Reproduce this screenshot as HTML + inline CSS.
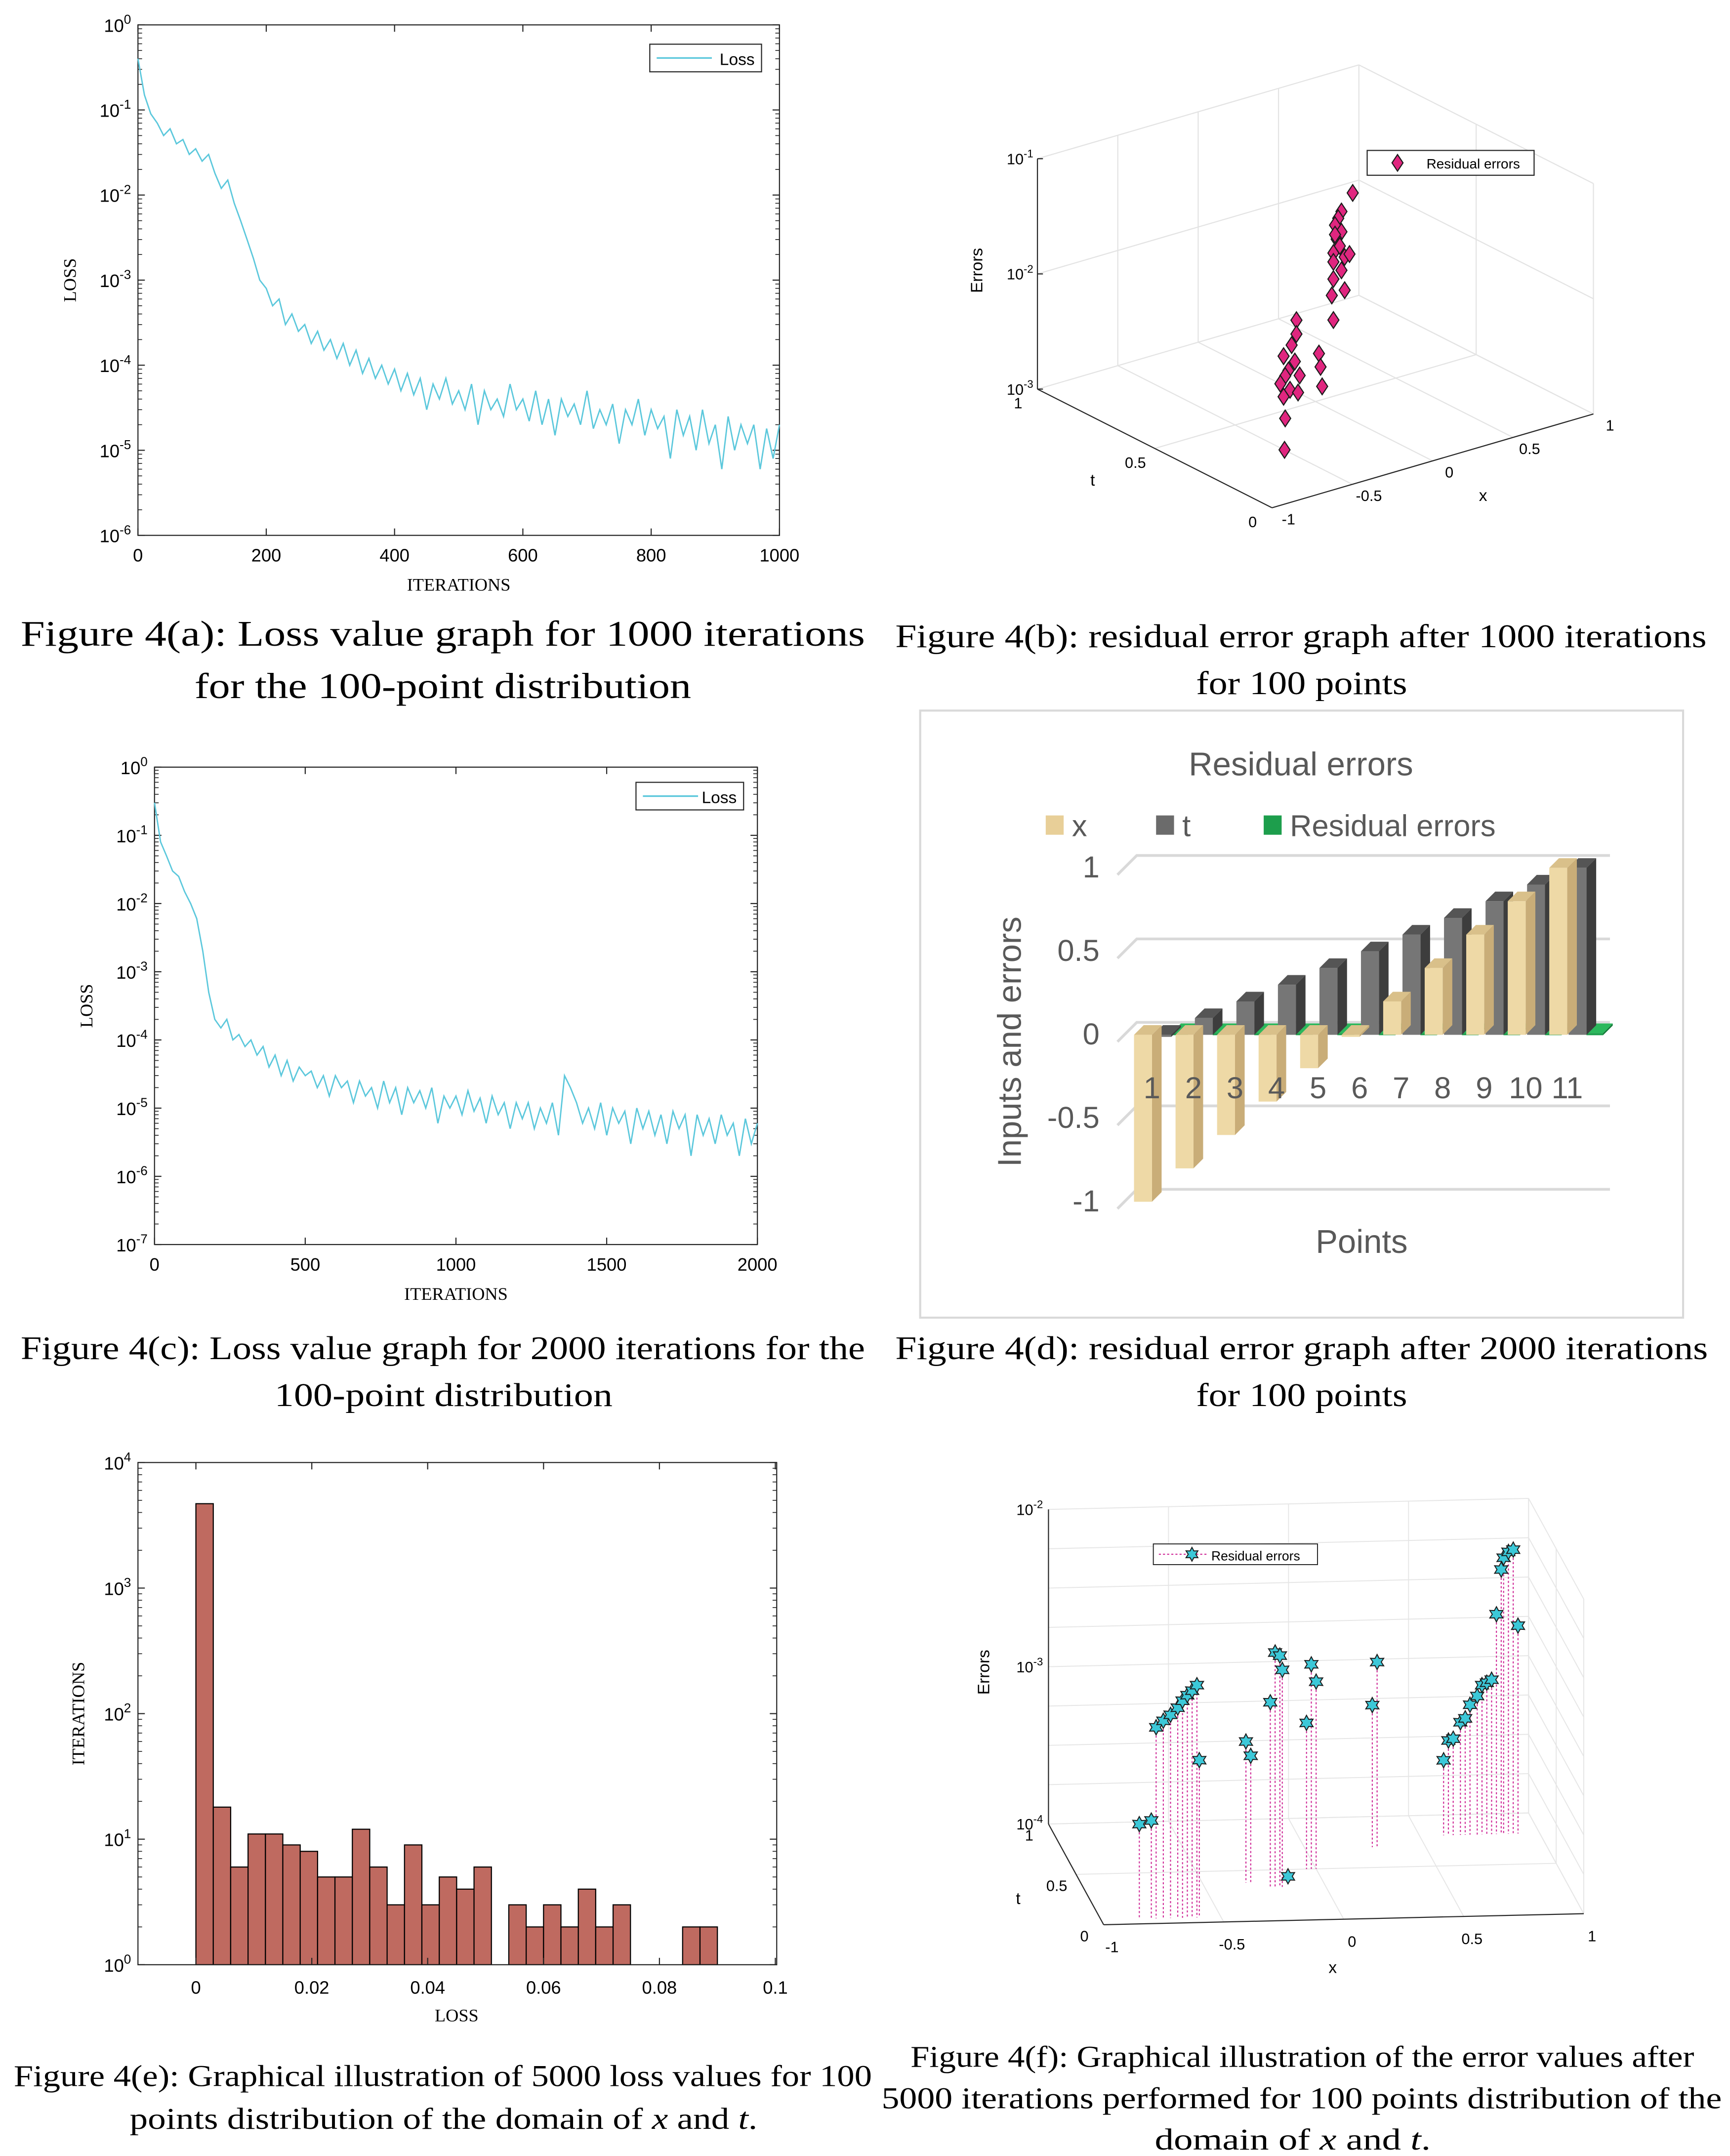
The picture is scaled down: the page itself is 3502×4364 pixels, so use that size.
<!DOCTYPE html>
<html><head><meta charset="utf-8"><style>
html,body{margin:0;padding:0;background:#fff}
svg{display:block}
text{font-family:"Liberation Sans",sans-serif}
.serif{font-family:"Liberation Serif",serif}
</style></head>
<body>
<svg id="chart" width="3502" height="4364" viewBox="0 0 1254 1562.6" xmlns="http://www.w3.org/2000/svg">
<rect x="0" y="0" width="1254" height="1563" fill="#fff"/>
<g id="pa"></g>
<g id="pb"></g>
<g id="pc"></g>
<g id="pd"></g>
<g id="pe"></g>
<g id="pf"></g>
<g class="serif" fill="#000">
<text x="15" y="468" font-size="26" textLength="612" lengthAdjust="spacingAndGlyphs" class="serif">Figure 4(a): Loss value graph for  1000  iterations</text>
<text x="141" y="506" font-size="26" textLength="360" lengthAdjust="spacingAndGlyphs" class="serif">for the 100-point distribution</text>
<text x="649" y="469" font-size="24" textLength="588" lengthAdjust="spacingAndGlyphs" class="serif">Figure 4(b): residual error graph after 1000 iterations</text>
<text x="867" y="503" font-size="24" textLength="153" lengthAdjust="spacingAndGlyphs" class="serif">for 100 points</text>
<text x="15" y="985" font-size="24" textLength="612" lengthAdjust="spacingAndGlyphs" class="serif">Figure 4(c): Loss value graph for 2000 iterations for the</text>
<text x="199" y="1019" font-size="24" textLength="245" lengthAdjust="spacingAndGlyphs" class="serif">100-point distribution</text>
<text x="649" y="985" font-size="24" textLength="589" lengthAdjust="spacingAndGlyphs" class="serif">Figure 4(d): residual error graph after 2000 iterations</text>
<text x="867" y="1019" font-size="24" textLength="153" lengthAdjust="spacingAndGlyphs" class="serif">for 100 points</text>
<text x="10" y="1512" font-size="22" textLength="622" lengthAdjust="spacingAndGlyphs" class="serif">Figure 4(e): Graphical illustration of  5000  loss values for  100</text>
<text x="94" y="1543" font-size="22" textLength="455" lengthAdjust="spacingAndGlyphs" class="serif">points distribution of the domain of  <tspan font-style="italic">x</tspan>  and  <tspan font-style="italic">t</tspan>.</text>
<text x="660" y="1498" font-size="22" textLength="568" lengthAdjust="spacingAndGlyphs" class="serif">Figure 4(f): Graphical illustration of the error values after</text>
<text x="639" y="1528" font-size="22" textLength="609" lengthAdjust="spacingAndGlyphs" class="serif">5000  iterations performed for  100  points distribution of the</text>
<text x="837" y="1558" font-size="22" textLength="200" lengthAdjust="spacingAndGlyphs" class="serif">domain of  <tspan font-style="italic">x</tspan>  and  <tspan font-style="italic">t</tspan>.</text>
</g>
</svg>
<script>
// ---------- DATA ----------
const lossAIters = [];
for (let i = 0; i <= 100; i++) lossAIters.push(i * 10);
const lossAValues = [0.4,0.15,0.09,0.07,0.05,0.06,0.04,0.045,0.03,0.035,0.025,0.03,0.018,0.012,0.015,0.008,0.005,0.003,0.0018,0.001,
0.0008,0.0005,0.0006,0.0003,0.0004,0.00025,0.0003,0.00018,0.00025,0.00015,0.0002,0.00012,0.00018,0.0001,0.00015,0.00008,0.00012,0.00007,0.0001,0.00006,
0.00009,0.00005,0.00008,0.000045,0.00007,0.00003,0.00006,0.00004,0.00007,0.000035,0.00005,0.00003,0.00006,0.00002,0.00005,0.00003,0.00004,0.000025,0.00006,0.00003,
0.00004,0.000022,0.00005,0.00002,0.00004,0.000015,0.00004,0.000025,0.000035,0.00002,0.00005,0.000018,0.00003,0.00002,0.000035,0.000012,0.00003,0.00002,0.00004,0.000015,
0.00003,0.000018,0.000025,0.000008,0.00003,0.000015,0.000025,0.00001,0.00003,0.000012,0.00002,0.000006,0.000025,0.00001,0.00002,0.000012,0.00002,0.000006,0.000018,0.000008,0.00002];
const lossCIters = [];
for (let i = 0; i <= 100; i++) lossCIters.push(i * 20);
const lossCValues = [0.3,0.08,0.05,0.03,0.025,0.015,0.01,0.006,0.002,0.0005,0.0002,0.00015,0.0002,0.0001,0.00012,0.00008,0.0001,0.00006,0.00008,0.00004,
0.00006,0.00003,0.00005,0.000025,0.00004,0.00003,0.000035,0.00002,0.00003,0.000015,0.00003,0.00002,0.000025,0.000012,0.000025,0.000015,0.00002,0.00001,0.000025,0.000012,
0.00002,0.000008,0.00002,0.000012,0.000018,0.00001,0.00002,0.000006,0.000015,0.00001,0.000015,0.000008,0.000018,0.000009,0.000014,0.000006,0.000015,0.000008,0.000012,0.000005,
0.000012,0.000007,0.000012,0.000005,0.00001,0.000006,0.000012,0.000004,0.00003,0.00002,0.000012,0.000006,0.00001,0.000005,0.000012,0.000004,0.00001,0.000006,0.000009,0.000003,
0.00001,0.000005,0.000009,0.000004,0.000008,0.000003,0.000009,0.000005,0.000008,0.000002,0.000008,0.000004,0.000007,0.000003,0.000008,0.000004,0.000006,0.000002,0.000007,0.000003,0.000006];
const resBX = [-0.41,-0.41,-0.44,-0.49,-0.42,-0.46,-0.48,-0.51,-0.45,-0.49,-0.40,-0.48,-0.63,-0.27,-0.26,-0.25,-0.39,
-0.06,-0.13,-0.15,-0.17,-0.13,-0.16,-0.14,-0.18,-0.11,-0.08,-0.18,-0.13,-0.18,-0.11,-0.19,-0.18,-0.17];
const resBT = [0.3,0.3,0.3,0.3,0.3,0.3,0.3,0.3,0.3,0.3,0.3,0.3,0.2,0.3,0.3,0.3,0.3,
0.3,0.3,0.3,0.3,0.3,0.3,0.3,0.3,0.3,0.3,0.3,0.3,0.3,0.3,0.3,0.3,0.3];
const resBErr = [0.012,0.0091,0.0075,0.0063,0.0053,0.0046,0.0042,0.0037,0.0031,0.0028,0.0028,0.0018,0.0014,0.0054,0.0041,0.00275,0.0039,
0.11,0.081,0.072,0.064,0.054,0.048,0.041,0.037,0.032,0.033,0.031,0.025,0.022,0.0165,0.016,0.0097,0.053];
const pointLabels = ['1','2','3','4','5','6','7','8','9','10','11'];
const xInputs = [-1,-0.8,-0.6,-0.4,-0.2,0,0.2,0.4,0.6,0.8,1];
const tInputs = [0,0.1,0.2,0.3,0.4,0.5,0.6,0.7,0.8,0.9,1];
const residualErrs = [0.01,0.01,0.01,0.01,0.01,0.01,0.01,0.01,0.01,0.01,0.01];
const dTicks = [1,0.5,0,-0.5,-1];
const histBinWidth = 0.003;
const histCounts = [4700,18,6,11,11,9,8,5,5,12,6,3,9,3,5,4,6,0,3,2,3,2,4,2,3,0,0,0,2,2];
const histXTicks = [0,0.02,0.04,0.06,0.08,0.1];
const resFX = [-0.84,-0.79,-0.77,-0.74,-0.71,-0.68,-0.66,-0.64,-0.62,-0.60,-0.59,-0.32,-0.30,-0.23,-0.21,-0.19,-0.18,-0.14,-0.04,-0.02,0.0,0.28,0.30,
0.60,0.62,0.64,0.67,0.69,0.71,0.74,0.76,0.78,0.80,0.82,0.84,0.85,0.87,0.89,0.91];
const resFT = [0.05,0.05,0.05,0.05,0.05,0.05,0.05,0.05,0.05,0.05,0.05,0.38,0.38,0.33,0.33,0.33,0.33,0.4,0.5,0.5,0.5,0.7,0.7,
0.8,0.8,0.8,0.8,0.8,0.8,0.8,0.8,0.8,0.8,0.8,0.8,0.8,0.8,0.8,0.8];
const resFErr = [0.0004,0.00042,0.00164,0.0018,0.00196,0.00217,0.0024,0.0026,0.00277,0.003,0.001,0.00079,0.00064,0.0015,0.0031,0.00296,0.0024,0.000105,0.00085,0.002,0.00155,0.0008,0.0015,
0.0003,0.0004,0.00041,0.00052,0.00055,0.00067,0.00076,0.00089,0.00092,0.00096,0.0025,0.0048,0.0057,0.0062,0.0064,0.0021];

// ---------- HELPERS ----------
const NS = 'http://www.w3.org/2000/svg';
function mk(tag, attrs, parent) {
  const el = document.createElementNS(NS, tag);
  for (const k in attrs) el.setAttribute(k, attrs[k]);
  parent.appendChild(el);
  return el;
}
function powLabel(parent, x, y, exp, size, anchor) {
  const t = mk('text', {x: x, y: y, 'font-size': size, 'text-anchor': anchor || 'end', fill: '#000'}, parent);
  
  
  const a = document.createElementNS(NS, 'tspan'); a.textContent = '10'; t.appendChild(a);
  const b = document.createElementNS(NS, 'tspan'); b.textContent = exp; b.setAttribute('dy', -size * 0.45); b.setAttribute('font-size', size * 0.72); t.appendChild(b);
  return t;
}
function txt(parent, x, y, s, size, anchor, extra) {
  const t = mk('text', Object.assign({x: x, y: y, 'font-size': size, 'text-anchor': anchor || 'middle', fill: '#000'}, extra || {}), parent);
  t.textContent = s;
  return t;
}

// ---------- LOSS PANELS ----------
function lossPanel(g, L, T, R, B, eMin, eMax, xMax, xTicks, iters, vals, legX, legY, legW) {
  const sx = v => L + (v / xMax) * (R - L);
  const sy = v => B - (Math.log10(v) - eMin) / (eMax - eMin) * (B - T);
  const box = mk('rect', {x: L, y: T, width: R - L, height: B - T, fill: 'none', stroke: '#262626', 'stroke-width': 0.8}, g);
  
  
  for (let e = eMin; e <= eMax; e++) {
    const y = B - (e - eMin) / (eMax - eMin) * (B - T);
    mk('line', {x1: L, x2: L + 5, y1: y, y2: y, stroke: '#262626', 'stroke-width': 0.8}, g);
    mk('line', {x1: R, x2: R - 5, y1: y, y2: y, stroke: '#262626', 'stroke-width': 0.8}, g);
    powLabel(g, L - 5, y + 5, String(e), 13);
    if (e < eMax) for (let m = 2; m <= 9; m++) {
      const ym = sy(m * Math.pow(10, e));
      mk('line', {x1: L, x2: L + 3, y1: ym, y2: ym, stroke: '#262626', 'stroke-width': 0.6}, g);
      mk('line', {x1: R, x2: R - 3, y1: ym, y2: ym, stroke: '#262626', 'stroke-width': 0.6}, g);
    }
  }
  xTicks.forEach(v => {
    const x = sx(v);
    mk('line', {x1: x, x2: x, y1: B, y2: B - 5, stroke: '#262626', 'stroke-width': 0.8}, g);
    mk('line', {x1: x, x2: x, y1: T, y2: T + 5, stroke: '#262626', 'stroke-width': 0.8}, g);
    const lt = txt(g, x, B + 19, String(v), 13);
    
    
  });
  let d = '';
  iters.forEach((it, i) => { d += (i ? 'L' : 'M') + sx(it).toFixed(1) + ',' + sy(vals[i]).toFixed(1); });
  const p = mk('path', {d: d, fill: 'none', stroke: '#5cc8dc', 'stroke-width': 1}, g);
  
  
  const lb = mk('rect', {x: legX, y: legY, width: legW, height: 20, fill: '#fff', stroke: '#262626', 'stroke-width': 0.8}, g);
  
  
  mk('line', {x1: legX + 5, x2: legX + 45, y1: legY + 10, y2: legY + 10, stroke: '#5cc8dc', 'stroke-width': 1.2}, g);
  const le = txt(g, legX + legW - 5, legY + 15, 'Loss', 12, 'end');
  
  
  const yt = txt(g, 0, 0, 'LOSS', 13, 'middle', {transform: 'translate(' + (L - 45) + ',' + ((T + B) / 2) + ') rotate(-90)', class: 'serif'});
  
  
  const xt = txt(g, (L + R) / 2, B + 40, 'ITERATIONS', 13, 'middle', {class: 'serif'});
  
  
}
lossPanel(document.getElementById('pa'), 100, 18, 565, 388, -6, 0, 1000, [0,200,400,600,800,1000], lossAIters, lossAValues, 471, 32, 81);
lossPanel(document.getElementById('pc'), 112, 556, 549, 902, -7, 0, 2000, [0,500,1000,1500,2000], lossCIters, lossCValues, 461, 567, 78);

// ---------- HISTOGRAM ----------
(function () {
  const g = document.getElementById('pe');
  const L = 100, T = 1060, R = 563, B = 1424;
  const sx = v => 142 + v / 0.02 * 84;
  const sy = v => B - Math.log10(v) / 4 * (B - T);
  histCounts.forEach((c, i) => {
    if (c <= 0) return;
    const x0 = sx(i * histBinWidth), x1 = sx((i + 1) * histBinWidth);
    const r = mk('rect', {x: x0, y: sy(c), width: x1 - x0, height: B - sy(c), fill: '#bf6a60', stroke: '#000', 'stroke-width': 0.8}, g);
    
    
  });
  const box = mk('rect', {x: L, y: T, width: R - L, height: B - T, fill: 'none', stroke: '#262626', 'stroke-width': 0.8}, g);
  
  
  for (let e = 0; e <= 4; e++) {
    const y = sy(Math.pow(10, e));
    mk('line', {x1: L, x2: L + 5, y1: y, y2: y, stroke: '#262626', 'stroke-width': 0.8}, g);
    mk('line', {x1: R, x2: R - 5, y1: y, y2: y, stroke: '#262626', 'stroke-width': 0.8}, g);
    powLabel(g, L - 5, y + 5, String(e), 13);
    if (e < 4) for (let m = 2; m <= 9; m++) {
      const ym = sy(m * Math.pow(10, e));
      mk('line', {x1: L, x2: L + 3, y1: ym, y2: ym, stroke: '#262626', 'stroke-width': 0.6}, g);
      mk('line', {x1: R, x2: R - 3, y1: ym, y2: ym, stroke: '#262626', 'stroke-width': 0.6}, g);
    }
  }
  histXTicks.forEach(v => {
    const x = sx(v);
    mk('line', {x1: x, x2: x, y1: B, y2: B - 5, stroke: '#262626', 'stroke-width': 0.8}, g);
    mk('line', {x1: x, x2: x, y1: T, y2: T + 5, stroke: '#262626', 'stroke-width': 0.8}, g);
    const lt = txt(g, x, B + 21, String(v), 13);
    
    
  });
  const yt = txt(g, 0, 0, 'ITERATIONS', 13, 'middle', {transform: 'translate(61,1242) rotate(-90)', class: 'serif'});
  
  
  const xt = txt(g, 331, 1465, 'LOSS', 13, 'middle', {class: 'serif'});
  
  
})();

// ---------- 3D PANEL (b) ----------
(function () {
  const g = document.getElementById('pb');
  const O = [922, 368], ex = [233, -68], et = [-170, -86], dec = 83.5, eMin = -3;
  const P = (x, t, err) => {
    const a = (x + 1) / 2;
    const h = (Math.log10(err) - eMin) * dec;
    return [O[0] + a * ex[0] + t * et[0], O[1] + a * ex[1] + t * et[1] - h];
  };
  const ln = (p, q, c, w) => mk('line', {x1: p[0], y1: p[1], x2: q[0], y2: q[1], stroke: c, 'stroke-width': w}, g);
  const grid = '#e3e3e3';
  [0, 1, 2].forEach(k => { const e = Math.pow(10, eMin + k); ln(P(-1, 1, e), P(1, 1, e), grid, 0.8); ln(P(1, 1, e), P(1, 0, e), grid, 0.8); });
  [-0.5, 0, 0.5, 1].forEach(x => { ln(P(x, 1, 0.001), P(x, 1, 0.1), grid, 0.8); ln(P(x, 0, 0.001), P(x, 1, 0.001), grid, 0.8); });
  [0, 0.5].forEach(t => { ln(P(1, t, 0.001), P(1, t, 0.1), grid, 0.8); ln(P(-1, t, 0.001), P(1, t, 0.001), grid, 0.8); });
  ln(P(-1, 1, 0.001), P(-1, 1, 0.1), '#262626', 0.8);
  ln(P(-1, 1, 0.001), P(-1, 0, 0.001), '#262626', 0.8);
  ln(P(-1, 0, 0.001), P(1, 0, 0.001), '#262626', 0.8);
  [-3, -2, -1].forEach(e => { const p = P(-1, 1, Math.pow(10, e)); ln(p, [p[0] + 4, p[1]], '#262626', 0.8); powLabel(g, p[0] - 3, p[1] + 4, String(e), 11); });
  [0, 0.5, 1].forEach(t => { const p = P(-1, t, 0.001); const l = txt(g, p[0] - 14, p[1] + 14, String(t), 11);   });
  [-1, -0.5, 0, 0.5, 1].forEach(x => { const p = P(x, 0, 0.001); const l = txt(g, p[0] + 12, p[1] + 12, String(x), 11);   });
  const a1 = txt(g, 0, 0, 'Errors', 12, 'middle', {transform: 'translate(712,196) rotate(-90)'});
   
  const a2 = txt(g, 792, 352, 't', 12);  
  const a3 = txt(g, 1075, 363, 'x', 12);  
  resBX.forEach((x, i) => {
    const p = P(x, resBT[i], resBErr[i]);
    const m = mk('polygon', {points: [p[0], p[1] - 6, p[0] + 4, p[1], p[0], p[1] + 6, p[0] - 4, p[1]].join(','), fill: '#e0267f', stroke: '#1a1a1a', 'stroke-width': 0.8}, g);
    
    
  });
  const lb = mk('rect', {x: 991, y: 109, width: 121, height: 18, fill: '#fff', stroke: '#262626', 'stroke-width': 0.8}, g);
   
  mk('polygon', {points: '1013,112 1017,118 1013,124 1009,118', fill: '#e0267f', stroke: '#1a1a1a', 'stroke-width': 0.8}, g);
  const le = txt(g, 1034, 122, 'Residual errors', 10, 'start');
   
})();

// ---------- 3D PANEL (f) ----------
(function () {
  const g = document.getElementById('pf');
  const O = [800, 1395], ex = [348, -8], et = [-40, -73], dec = 114, eMin = -4;
  const P = (x, t, err) => {
    const a = (x + 1) / 2;
    const h = (Math.log10(err) - eMin) * dec;
    return [O[0] + a * ex[0] + t * et[0], O[1] + a * ex[1] + t * et[1] - h];
  };
  const ln = (p, q, c, w, dash) => mk('line', Object.assign({x1: p[0], y1: p[1], x2: q[0], y2: q[1], stroke: c, 'stroke-width': w}, dash ? {'stroke-dasharray': dash} : {}), g);
  const grid = '#e6e6e6';
  for (let e = -4; e <= -2; e += 0.25) { const v = Math.pow(10, e); ln(P(-1, 1, v), P(1, 1, v), grid, 0.7); ln(P(1, 1, v), P(1, 0, v), grid, 0.7); }
  [-1, -0.5, 0, 0.5, 1].forEach(x => { ln(P(x, 1, 1e-4), P(x, 1, 1e-2), grid, 0.7); ln(P(x, 0, 1e-4), P(x, 1, 1e-4), grid, 0.7); });
  [0, 0.5, 1].forEach(t => { ln(P(1, t, 1e-4), P(1, t, 1e-2), grid, 0.7); ln(P(-1, t, 1e-4), P(1, t, 1e-4), grid, 0.7); });
  ln(P(-1, 1, 1e-4), P(-1, 1, 1e-2), '#262626', 0.8);
  ln(P(-1, 1, 1e-4), P(-1, 0, 1e-4), '#262626', 0.8);
  ln(P(-1, 0, 1e-4), P(1, 0, 1e-4), '#262626', 0.8);
  [-4, -3, -2].forEach(e => { const p = P(-1, 1, Math.pow(10, e)); powLabel(g, p[0] - 4, p[1] + 4, String(e), 11); });
  [0, 0.5, 1].forEach(t => { const p = P(-1, t, 1e-4); const l = txt(g, p[0] - 14, p[1] + 12, String(t), 11);   });
  [-1, -0.5, 0, 0.5, 1].forEach(x => { const p = P(x, 0, 1e-4); const l = txt(g, p[0] + 6, p[1] + 20, String(x), 11);   });
  const a1 = txt(g, 0, 0, 'Errors', 12, 'middle', {transform: 'translate(717,1212) rotate(-90)'});
   
  const a2 = txt(g, 738, 1380, 't', 12);  
  const a3 = txt(g, 966, 1430, 'x', 12);  
  const star = (cx, cy, r) => { let pts = []; for (let k = 0; k < 12; k++) { const rr = k % 2 ? r * 0.55 : r; const ang = -Math.PI / 2 + k * Math.PI / 6; pts.push((cx + rr * Math.cos(ang)).toFixed(1) + ',' + (cy + rr * Math.sin(ang)).toFixed(1)); } return pts.join(' '); };
  resFX.forEach((x, i) => {
    const p = P(x, resFT[i], resFErr[i]);
    const base = P(x, resFT[i], 1e-4);
    const s = ln(p, base, '#d0309a', 0.8, '1.5,1.5');
    
    
  });
  resFX.forEach((x, i) => {
    const p = P(x, resFT[i], resFErr[i]);
    const m = mk('polygon', {points: star(p[0], p[1], 5.5), fill: '#3cc8d8', stroke: '#1a1a1a', 'stroke-width': 0.7}, g);
    
    
  });
  const lb = mk('rect', {x: 836, y: 1119, width: 119, height: 15, fill: '#fff', stroke: '#262626', 'stroke-width': 0.7}, g);
   
  mk('line', {x1: 840, x2: 875, y1: 1126.5, y2: 1126.5, stroke: '#d0309a', 'stroke-width': 0.8, 'stroke-dasharray': '1.5,1.5'}, g);
  mk('polygon', {points: star(864, 1126.5, 5), fill: '#3cc8d8', stroke: '#1a1a1a', 'stroke-width': 0.7}, g);
  const le = txt(g, 878, 1131, 'Residual errors', 9.5, 'start');
   
})();

// ---------- BAR CHART (d) ----------
(function () {
  const g = document.getElementById('pd');
  const fr = mk('rect', {x: 667, y: 515, width: 553, height: 440, fill: '#fff', stroke: '#d9d9d9', 'stroke-width': 1.5}, g);
   
  const grey = '#595959';
  const tt = txt(g, 943, 562, 'Residual errors', 24, 'middle', {fill: grey});
   
  const zero = 750, unit = 121;
  const sy = v => zero - v * unit;
  dTicks.forEach(v => {
    const yb = sy(v) - 9;
    const gl = mk('polyline', {points: '810,' + (yb + 14) + ' 824,' + yb + ' 1167,' + yb, fill: 'none', stroke: '#d9d9d9', 'stroke-width': 2}, g);
    
    
    const l = txt(g, 797, sy(v) + 7, String(v), 22, 'end', {fill: grey});
    
    
  });
  const bar = (x0, w, v, face, top, side, name) => {
    const y0 = sy(0), y1 = sy(v), dx = 7, dy = -7;
    const ytop = Math.min(y0, y1), h = Math.max(Math.abs(y1 - y0), 1.5);
    const grp = mk('g', {}, g);
    
    
    mk('polygon', {points: [x0 + w, ytop, x0 + w + dx, ytop + dy, x0 + w + dx, ytop + h + dy, x0 + w, ytop + h].join(','), fill: side}, grp);
    mk('polygon', {points: [x0, ytop, x0 + dx, ytop + dy, x0 + w + dx, ytop + dy, x0 + w, ytop].join(','), fill: top}, grp);
    mk('rect', {x: x0, y: ytop, width: w, height: h, fill: face}, grp);
  };
  pointLabels.forEach((lab, i) => {
    const cx = 835 + 30.1 * i;
    bar(cx + 14, 12, residualErrs[i], '#1d9e4c', '#2bb85c', '#157a3a', 'bar-residual-' + lab);
    bar(cx + 1, 13, tInputs[i], '#767676', '#555', '#3d3d3d', 'bar-t-' + lab);
    bar(cx - 13, 13, xInputs[i], '#eed9a6', '#d9c08a', '#c9ad78', 'bar-x-' + lab);
  });
  pointLabels.forEach((lab, i) => {
    const l = txt(g, 835 + 30.1 * i, 796, lab, 22, 'middle', {fill: grey});
    
    
  });
  const yt = txt(g, 0, 0, 'Inputs and errors', 24, 'middle', {transform: 'translate(740,755) rotate(-90)', fill: grey});
   
  const xt = txt(g, 987, 908, 'Points', 24, 'middle', {fill: grey});
   
  [[758, '#e8cf98', 'x', 'legend-entry-x'], [838, '#6b6b6b', 't', 'legend-entry-t'], [916, '#1d9e4c', 'Residual errors', 'legend-entry-residual-errors']].forEach(e => {
    const sq = mk('rect', {x: e[0], y: 591, width: 13, height: 14, fill: e[1]}, g);
     
    const l = txt(g, e[0] + 19, 606, e[2], 22, 'start', {fill: grey});
     
  });
})();
</script>
</body></html>
